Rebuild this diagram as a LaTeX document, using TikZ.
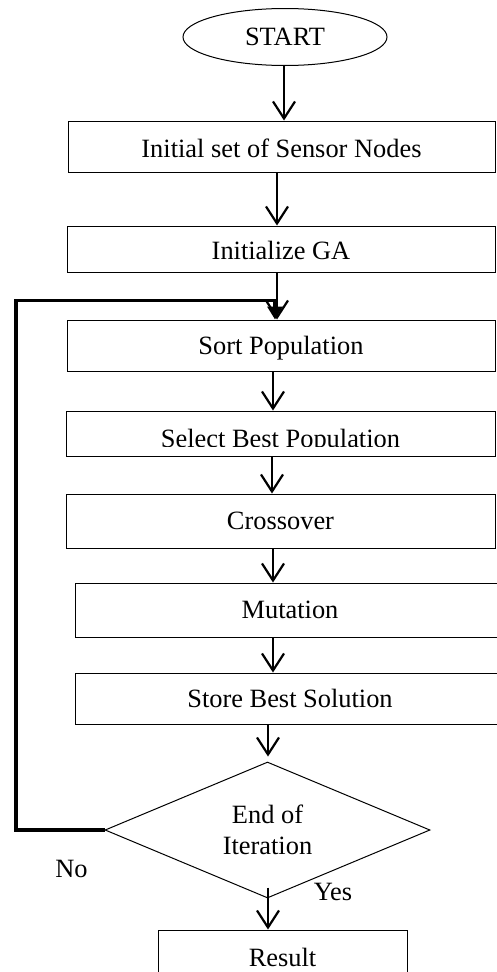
\documentclass[tikz,border=0pt]{standalone}
\usepackage{fontspec}
\setmainfont{Liberation Serif}
\usetikzlibrary{shapes.geometric,arrows.meta}
\newcommand\ftx{\fontsize{26.4}{31}\selectfont}
\begin{document}
\begin{tikzpicture}[x=1pt,y=-1pt,
  box/.style={draw,line width=1pt,inner sep=0pt,font=\ftx,text height=18pt,text depth=0pt},
  txt/.style={inner sep=0pt,font=\ftx,text height=18pt,text depth=0pt},
  arr/.style={line width=2.2pt,-{Straight Barb[length=17pt,width=22pt]}},
  fb/.style={line width=3.2pt,-{Triangle[length=13pt,width=15pt]}}]
\useasboundingbox (0,0) rectangle (497,972);
% nodes
\node[draw,ellipse,line width=1pt,minimum width=204pt,minimum height=57pt,inner sep=0pt,font=\ftx] (start) at (285,37) {START};
\node[box,minimum width=427pt,minimum height=51pt,text height=21pt] (b1) at (281.5,146.5) {Initial set of Sensor Nodes};
\node[box,minimum width=428pt,minimum height=46pt,text height=21pt] (b2) at (281,249) {Initialize GA};
\node[box,minimum width=428pt,minimum height=51pt] (b3) at (281,345.5) {Sort Population};
\node[box,minimum width=429pt,minimum height=45pt] (b4) at (280.5,433.5) {};
\begin{scope}
  \clip (60,412) rectangle (500,446.5);
  \node[txt] (b4t) at (280.5,438) {Select Best Population};
\end{scope}
\node[box,minimum width=429pt,minimum height=54pt,text height=16pt] (b5) at (280.5,521) {Crossover};
\node[box,minimum width=430pt,minimum height=54pt,text height=16pt] (b6) at (290,610) {Mutation};
\node[box,minimum width=430pt,minimum height=51pt,text height=17pt] (b7) at (290,698.5) {Store Best Solution};
\node[draw,diamond,line width=1pt,minimum width=325pt,minimum height=136pt,shape aspect=2.4,inner sep=0pt,align=center,font=\ftx] (dec) at (267.5,830) {End of\\Iteration};
\node[box,minimum width=249pt,minimum height=54pt] (res) at (282.5,957) {Result};
\node[txt] (no) at (71.5,868) {No};
\node[txt] (yes) at (333,891) {Yes};
\coordinate (fbc) at (16,300.5);
% connectors
\draw[arr] ([xshift=-1pt]start.south) -- ([xshift=2.5pt]b1.north);
\draw[arr] ([xshift=-4.5pt]b1.south) -- ([xshift=-4pt]b2.north);
\draw[fb] (dec.west) -| (fbc) -| ([xshift=-6pt]b3.north);
\draw[arr] ([xshift=-4pt]b2.south) -- ([xshift=-4pt]b3.north);
\draw[arr] ([xshift=-8pt]b3.south) -- ([xshift=-7.5pt]b4.north);
\draw[arr] ([xshift=-8.5pt]b4.south) -- ([xshift=-8.5pt]b5.north);
\draw[arr] ([xshift=-7.5pt]b5.south) -- ([xshift=-17pt]b6.north);
\draw[arr] ([xshift=-17pt]b6.south) -- ([xshift=-17pt]b7.north);
\draw[arr] ([xshift=-22pt]b7.south) -- ([xshift=0.5pt,yshift=5pt]dec.north);
\draw[arr] ([xshift=0.5pt,yshift=11pt]dec.south) -- ([xshift=-14.5pt]res.north);
\end{tikzpicture}
\end{document}
